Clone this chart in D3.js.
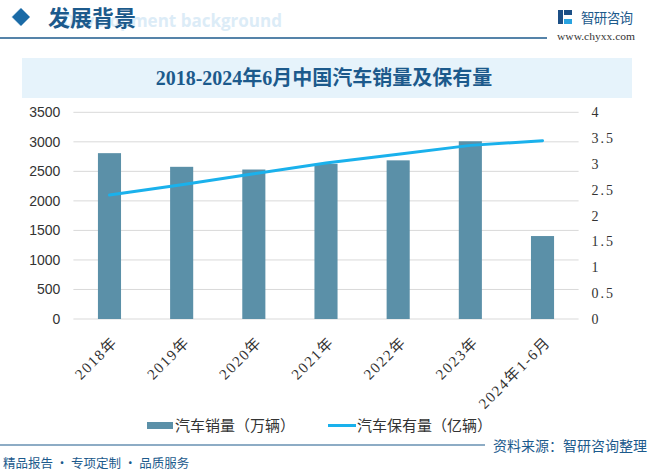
<!DOCTYPE html>
<html><head><meta charset="utf-8">
<script src="https://cdn.jsdelivr.net/npm/d3@7"></script>
<style>body{margin:0;background:#fff}svg{display:block}</style>
</head><body>
<script>
const categories = ["2018年","2019年","2020年","2021年","2022年","2023年","2024年1-6月"];
const sales = [2808.1, 2576.9, 2531.1, 2627.5, 2686.4, 3009.4, 1404.7];
const holdings = [2.4, 2.6, 2.81, 3.02, 3.19, 3.36, 3.45];
const leftTicks = [0,500,1000,1500,2000,2500,3000,3500];
const rightTicks = [0,0.5,1,1.5,2,2.5,3,3.5,4];
const seriesNames = ["汽车销量（万辆）","汽车保有量（亿辆）"];

const W=656,H=475;
const svg=d3.select("body").append("svg").attr("width",W).attr("height",H);
const dark="#1c5a8c";
const cjk="'Noto Sans CJK SC','Noto Sans',sans-serif";
const serif="'Liberation Serif','DejaVu Serif','Noto Sans CJK SC',serif";

// header
svg.append("text").attr("x",62).attr("y",27).attr("font-family","'Open Sans',Arial,sans-serif")
  .attr("font-weight","bold").attr("font-size",17).attr("fill","#dcecf7")
  .attr("textLength",220).attr("lengthAdjust","spacingAndGlyphs").text("Development background");
svg.append("path").attr("d","M24,8 L33,17 L24,26 L15,17 Z").attr("fill","#dfeef8").attr("transform","translate(-4,0)");
svg.append("path").attr("d","M21,8 L30,17 L21,26 L12,17 Z").attr("fill","#1a6aa6");
svg.append("text").attr("x",48).attr("y",26).attr("font-family",cjk).attr("font-weight","bold")
  .attr("font-size",22).attr("fill",dark).text("发展背景");
svg.append("line").attr("x1",0).attr("x2",547).attr("y1",38).attr("y2",38).attr("stroke",dark).attr("stroke-width",1.5);
// logo
const lg=svg.append("g").attr("transform","translate(558,10)");
lg.append("rect").attr("x",0).attr("y",0).attr("width",5).attr("height",14).attr("fill","#1c4f86");
lg.append("rect").attr("x",6).attr("y",0).attr("width",8).attr("height",5).attr("fill","#1c4f86");
lg.append("rect").attr("x",6).attr("y",9).attr("width",8).attr("height",5).attr("fill","#29a3e0");
svg.append("text").attr("x",581).attr("y",23).attr("font-family",cjk).attr("font-size",13.5).attr("fill",dark)
  .attr("textLength",52).text("智研咨询");
svg.append("text").attr("x",557).attr("y",40).attr("font-family",serif).attr("font-size",10.5).attr("fill","#333")
  .attr("textLength",78).attr("lengthAdjust","spacingAndGlyphs").text("www.chyxx.com");

// title band
svg.append("rect").attr("x",22).attr("y",58).attr("width",610).attr("height",40).attr("fill","#e6f3fb");
svg.append("text").attr("x",324).attr("y",85).attr("text-anchor","middle").attr("font-family",serif)
  .attr("font-weight","bold").attr("font-size",20).attr("fill",dark).text("2018-2024年6月中国汽车销量及保有量");

// chart
const x=d3.scaleBand().domain(categories).range([73.4,578.6]).paddingInner(0.68).paddingOuter(0.34);
const yL=d3.scaleLinear().domain([0,3500]).range([319,112.3]);
const yR=d3.scaleLinear().domain([0,4]).range([319,112.3]);

const grid=svg.append("g");
grid.selectAll("line").data(leftTicks).join("line")
  .attr("x1",73.4).attr("x2",578.6).attr("y1",d=>yL(d)).attr("y2",d=>yL(d))
  .attr("stroke","#d9d9d9").attr("stroke-width",1);

const axL=svg.append("g").attr("transform","translate(73.4,0)")
  .call(d3.axisLeft(yL).tickValues(leftTicks).tickSize(0).tickPadding(13).tickFormat(d3.format("d")));
axL.select(".domain").remove();
axL.selectAll("text").attr("font-family","'Liberation Sans',Arial,sans-serif").attr("font-size",14).attr("fill","#333");

const axR=svg.append("g").attr("transform","translate(578.6,0)")
  .call(d3.axisRight(yR).tickValues(rightTicks).tickSize(0).tickPadding(13).tickFormat(d=>String(d)));
axR.select(".domain").remove();
axR.selectAll("text").attr("font-family",serif).attr("font-size",14).attr("letter-spacing",2).attr("fill","#333");

svg.append("g").selectAll("rect").data(sales).join("rect")
  .attr("x",(d,i)=>x(categories[i])).attr("width",x.bandwidth())
  .attr("y",d=>yL(d)).attr("height",d=>yL(0)-yL(d)).attr("fill","#5b90a8");

const line=d3.line().x((d,i)=>x(categories[i])+x.bandwidth()/2).y(d=>yR(d));
svg.append("path").datum(holdings).attr("d",line).attr("fill","none")
  .attr("stroke","#1ab1ec").attr("stroke-width",3).attr("stroke-linecap","round");

// x labels
const axB=svg.append("g").attr("transform","translate(0,319)")
  .call(d3.axisBottom(x).tickSize(0).tickPadding(0));
axB.select(".domain").remove();
axB.selectAll("text").attr("font-family",serif).attr("font-size",15).attr("letter-spacing",1.6).attr("fill","#333")
  .attr("text-anchor","end").attr("dy",0)
  .attr("transform","translate(9,24) rotate(-45)");

// legend
svg.append("rect").attr("x",147).attr("y",422).attr("width",26).attr("height",7).attr("fill","#5b90a8");
svg.append("text").attr("x",175).attr("y",431).attr("font-family",cjk).attr("font-size",15).attr("fill","#333").text(seriesNames[0]);
svg.append("line").attr("x1",328).attr("x2",356).attr("y1",425.5).attr("y2",425.5).attr("stroke","#1ab1ec").attr("stroke-width",3);
svg.append("text").attr("x",357).attr("y",431).attr("font-family",cjk).attr("font-size",15).attr("fill","#333").text(seriesNames[1]);

// footer
svg.append("line").attr("x1",0).attr("x2",485).attr("y1",445).attr("y2",445).attr("stroke",dark).attr("stroke-width",1.2);
svg.append("text").attr("x",3).attr("y",468).attr("font-family",cjk).attr("font-size",12.5).attr("fill",dark).text("精品报告 · 专项定制 · 品质服务");
svg.append("text").attr("x",647).attr("y",451).attr("text-anchor","end").attr("font-family",cjk).attr("font-size",14).attr("fill",dark).text("资料来源：智研咨询整理");
</script>
</body></html>
